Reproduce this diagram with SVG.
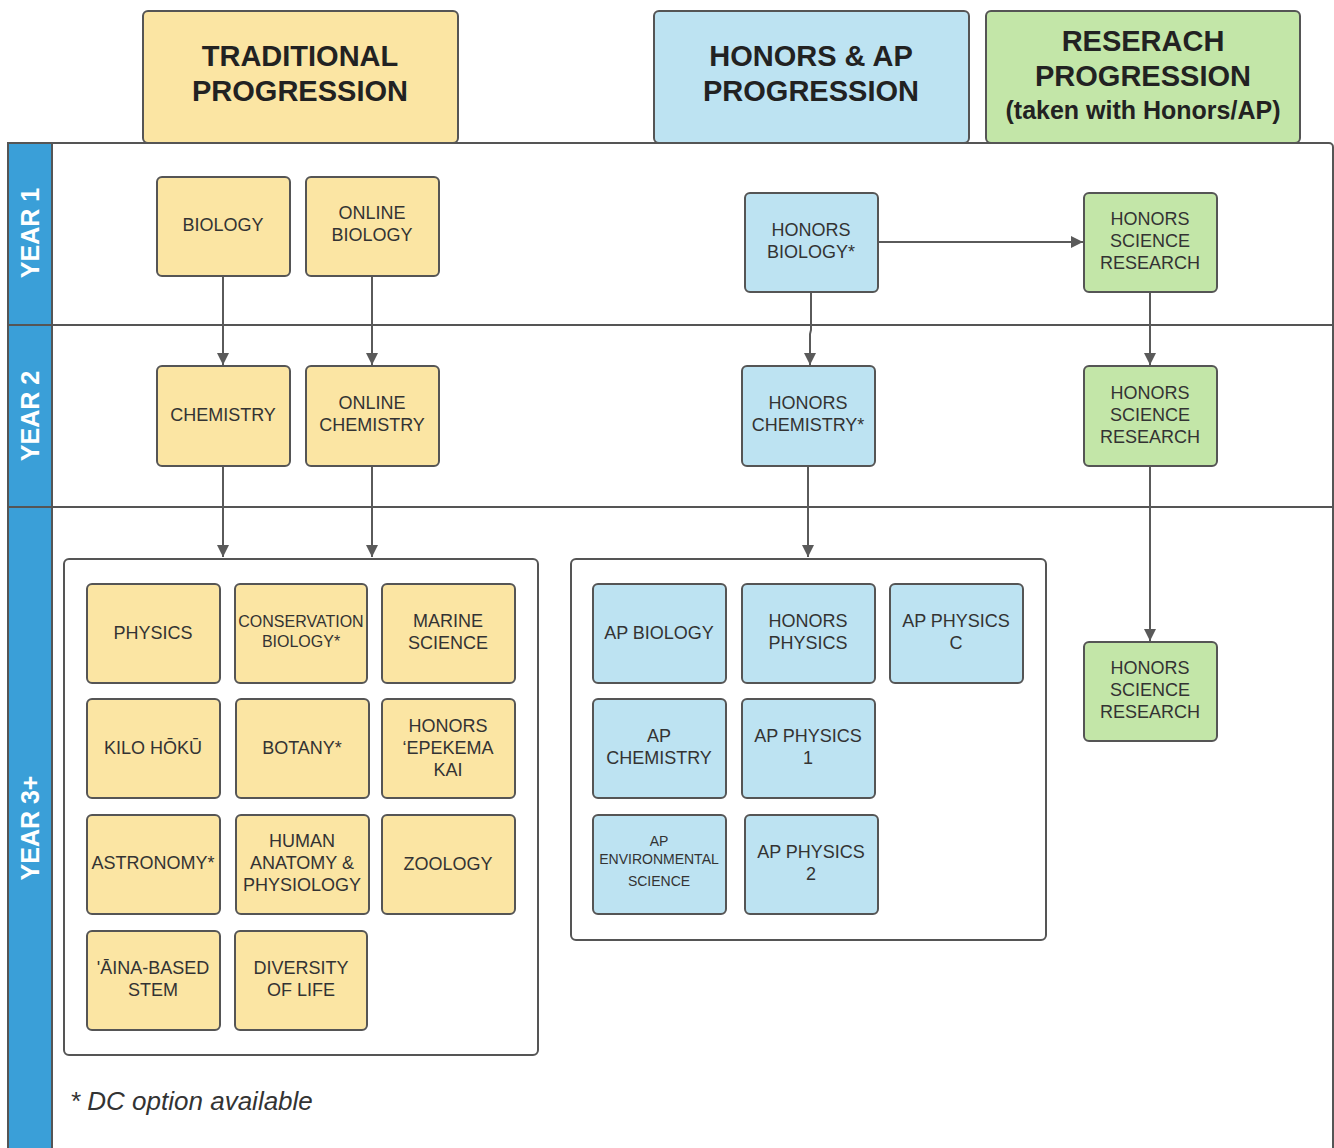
<svg xmlns="http://www.w3.org/2000/svg" width="1334" height="1148" viewBox="0 0 1334 1148">
<defs>
<style>
.y{fill:#FBE5A3;stroke:#555;stroke-width:2}
.b{fill:#BDE3F2;stroke:#555;stroke-width:2}
.g{fill:#C3E6A8;stroke:#555;stroke-width:2}
.t{font-family:"Liberation Sans",Arial,sans-serif;font-size:18px;fill:#333;text-anchor:middle}
.h{font-family:"Liberation Sans",Arial,sans-serif;font-size:29px;font-weight:bold;fill:#222;text-anchor:middle}
.yr{font-family:"Liberation Sans",Arial,sans-serif;font-size:25px;font-weight:bold;fill:#fff;text-anchor:middle}
.c{fill:none;stroke:#5a5a5a;stroke-width:2}
.ln{stroke:#555;stroke-width:2}
</style>
<marker id="ah" viewBox="0 0 10 10" refX="10" refY="5" markerWidth="6" markerHeight="6" orient="auto" markerUnits="strokeWidth">
<path d="M0,0 L10,5 L0,10 z" fill="#5a5a5a"/>
</marker>
</defs>
<rect width="1334" height="1148" fill="#fff"/>

<g id="frame">
<rect x="8" y="143" width="1325" height="1015" rx="4" fill="#fff" stroke="#555" stroke-width="2"/>
<rect x="8" y="143" width="44" height="1015" fill="#3A9FD8" stroke="#555" stroke-width="2"/>
<line class="ln" x1="8" y1="325" x2="1333" y2="325"/>
<line class="ln" x1="8" y1="507" x2="1333" y2="507"/>
<text class="yr" transform="translate(39,233) rotate(-90)">YEAR 1</text>
<text class="yr" transform="translate(39,416) rotate(-90)">YEAR 2</text>
<text class="yr" transform="translate(39,828) rotate(-90)">YEAR 3+</text>
</g>

<g id="header-traditional">
<rect class="y" x="143" y="11" width="315" height="132" rx="5"/>
<text class="h" x="300" y="66">TRADITIONAL</text>
<text class="h" x="300" y="101">PROGRESSION</text>
</g>
<g id="header-honors">
<rect class="b" x="654" y="11" width="315" height="132" rx="5"/>
<text class="h" x="811" y="66">HONORS &amp; AP</text>
<text class="h" x="811" y="101">PROGRESSION</text>
</g>
<g id="header-research">
<rect class="g" x="986" y="11" width="314" height="132" rx="5"/>
<text class="h" x="1143" y="51">RESERACH</text>
<text class="h" x="1143" y="86">PROGRESSION</text>
<text class="h" x="1143" y="119" style="font-size:25px">(taken with Honors/AP)</text>
</g>

<g id="container-traditional"><rect x="64" y="559" width="474" height="496" rx="5" fill="#fff" stroke="#555" stroke-width="2"/></g>
<g id="container-honors"><rect x="571" y="559" width="475" height="381" rx="5" fill="#fff" stroke="#555" stroke-width="2"/></g>

<g id="connectors">
<line class="c" x1="223" y1="276" x2="223" y2="365" marker-end="url(#ah)"/>
<line class="c" x1="372" y1="276" x2="372" y2="365" marker-end="url(#ah)"/>
<line class="c" x1="223" y1="466" x2="223" y2="557" marker-end="url(#ah)"/>
<line class="c" x1="372" y1="466" x2="372" y2="557" marker-end="url(#ah)"/>
<path class="c" d="M811,292 V330 L810,334 V365" marker-end="url(#ah)"/>
<line class="c" x1="808" y1="466" x2="808" y2="557" marker-end="url(#ah)"/>
<line class="c" x1="878" y1="242" x2="1083" y2="242" marker-end="url(#ah)"/>
<line class="c" x1="1150" y1="292" x2="1150" y2="365" marker-end="url(#ah)"/>
<line class="c" x1="1150" y1="466" x2="1150" y2="641" marker-end="url(#ah)"/>
</g>

<g id="biology"><rect class="y" x="157" y="177" width="133" height="99" rx="5"/><text class="t" x="223" y="231">BIOLOGY</text></g>
<g id="online-biology"><rect class="y" x="306" y="177" width="133" height="99" rx="5"/><text class="t" x="372" y="219">ONLINE</text><text class="t" x="372" y="241">BIOLOGY</text></g>
<g id="chemistry"><rect class="y" x="157" y="366" width="133" height="100" rx="5"/><text class="t" x="223" y="421">CHEMISTRY</text></g>
<g id="online-chemistry"><rect class="y" x="306" y="366" width="133" height="100" rx="5"/><text class="t" x="372" y="409">ONLINE</text><text class="t" x="372" y="431">CHEMISTRY</text></g>

<g id="physics"><rect class="y" x="87" y="584" width="133" height="99" rx="5"/><text class="t" x="153" y="639">PHYSICS</text></g>
<g id="conservation-biology"><rect class="y" x="235" y="584" width="132" height="99" rx="5"/><text class="t" x="301" y="627" style="font-size:16px">CONSERVATION</text><text class="t" x="301" y="647" style="font-size:16px">BIOLOGY*</text></g>
<g id="marine-science"><rect class="y" x="382" y="584" width="133" height="99" rx="5"/><text class="t" x="448" y="627">MARINE</text><text class="t" x="448" y="649">SCIENCE</text></g>
<g id="kilo-hoku"><rect class="y" x="87" y="699" width="133" height="99" rx="5"/><text class="t" x="153" y="754">KILO HŌKŪ</text></g>
<g id="botany"><rect class="y" x="236" y="699" width="133" height="99" rx="5"/><text class="t" x="302" y="754">BOTANY*</text></g>
<g id="honors-epekema-kai"><rect class="y" x="382" y="699" width="133" height="99" rx="5"/><text class="t" x="448" y="732">HONORS</text><text class="t" x="448" y="754">‘EPEKEMA</text><text class="t" x="448" y="776">KAI</text></g>
<g id="astronomy"><rect class="y" x="87" y="815" width="133" height="99" rx="5"/><text class="t" x="153" y="869">ASTRONOMY*</text></g>
<g id="human-anatomy"><rect class="y" x="236" y="815" width="133" height="99" rx="5"/><text class="t" x="302" y="847">HUMAN</text><text class="t" x="302" y="869">ANATOMY &amp;</text><text class="t" x="302" y="891">PHYSIOLOGY</text></g>
<g id="zoology"><rect class="y" x="382" y="815" width="133" height="99" rx="5"/><text class="t" x="448" y="870">ZOOLOGY</text></g>
<g id="aina-based-stem"><rect class="y" x="87" y="931" width="133" height="99" rx="5"/><text class="t" x="153" y="974">'ĀINA-BASED</text><text class="t" x="153" y="996">STEM</text></g>
<g id="diversity-of-life"><rect class="y" x="235" y="931" width="132" height="99" rx="5"/><text class="t" x="301" y="974">DIVERSITY</text><text class="t" x="301" y="996">OF LIFE</text></g>

<g id="honors-biology"><rect class="b" x="745" y="193" width="133" height="99" rx="5"/><text class="t" x="811" y="236">HONORS</text><text class="t" x="811" y="258">BIOLOGY*</text></g>
<g id="honors-chemistry"><rect class="b" x="742" y="366" width="133" height="100" rx="5"/><text class="t" x="808" y="409">HONORS</text><text class="t" x="808" y="431">CHEMISTRY*</text></g>
<g id="ap-biology"><rect class="b" x="593" y="584" width="133" height="99" rx="5"/><text class="t" x="659" y="639">AP BIOLOGY</text></g>
<g id="honors-physics"><rect class="b" x="742" y="584" width="133" height="99" rx="5"/><text class="t" x="808" y="627">HONORS</text><text class="t" x="808" y="649">PHYSICS</text></g>
<g id="ap-physics-c"><rect class="b" x="890" y="584" width="133" height="99" rx="5"/><text class="t" x="956" y="627">AP PHYSICS</text><text class="t" x="956" y="649">C</text></g>
<g id="ap-chemistry"><rect class="b" x="593" y="699" width="133" height="99" rx="5"/><text class="t" x="659" y="742">AP</text><text class="t" x="659" y="764">CHEMISTRY</text></g>
<g id="ap-physics-1"><rect class="b" x="742" y="699" width="133" height="99" rx="5"/><text class="t" x="808" y="742">AP PHYSICS</text><text class="t" x="808" y="764">1</text></g>
<g id="ap-environmental-science"><rect class="b" x="593" y="815" width="133" height="99" rx="5"/><text class="t" x="659" y="846" style="font-size:14px">AP</text><text class="t" x="659" y="864" style="font-size:14px">ENVIRONMENTAL</text><text class="t" x="659" y="886" style="font-size:14px">SCIENCE</text></g>
<g id="ap-physics-2"><rect class="b" x="745" y="815" width="133" height="99" rx="5"/><text class="t" x="811" y="858">AP PHYSICS</text><text class="t" x="811" y="880">2</text></g>

<g id="research-1"><rect class="g" x="1084" y="193" width="133" height="99" rx="5"/><text class="t" x="1150" y="225">HONORS</text><text class="t" x="1150" y="247">SCIENCE</text><text class="t" x="1150" y="269">RESEARCH</text></g>
<g id="research-2"><rect class="g" x="1084" y="366" width="133" height="100" rx="5"/><text class="t" x="1150" y="399">HONORS</text><text class="t" x="1150" y="421">SCIENCE</text><text class="t" x="1150" y="443">RESEARCH</text></g>
<g id="research-3"><rect class="g" x="1084" y="642" width="133" height="99" rx="5"/><text class="t" x="1150" y="674">HONORS</text><text class="t" x="1150" y="696">SCIENCE</text><text class="t" x="1150" y="718">RESEARCH</text></g>

<g id="footnote"><text x="70" y="1110" style="font-family:'Liberation Sans',Arial,sans-serif;font-size:26px;font-style:italic;fill:#333">* DC option available</text></g>
</svg>
